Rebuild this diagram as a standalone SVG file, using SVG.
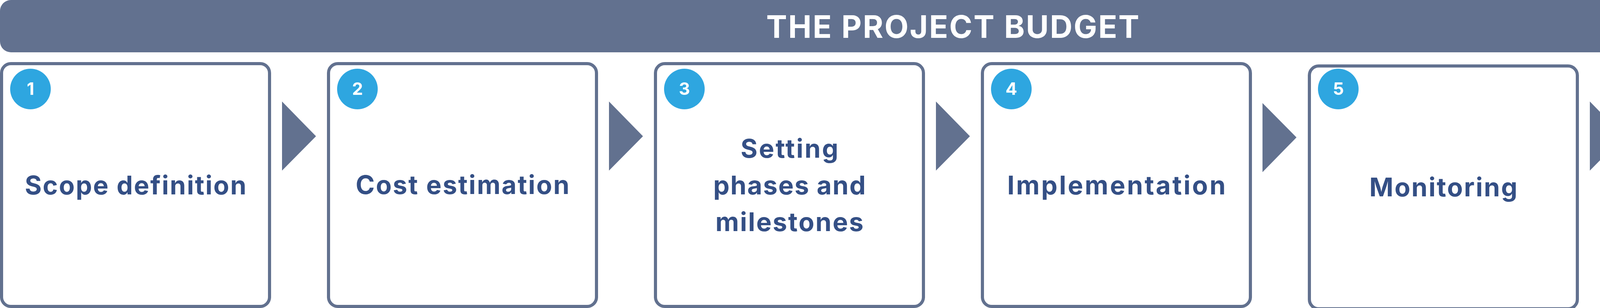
<svg xmlns="http://www.w3.org/2000/svg" width="4880" height="789" viewBox="0 0 4880 789">
<style>
.hdr{fill:#62718f}
.box{fill:#ffffff;stroke:#62718f;stroke-width:8}
.badge{fill:#2ea6e0}
.num{font-family:Inter,"Open Sans",sans-serif;font-weight:700;font-size:44px;fill:#ffffff;text-anchor:middle}
.lbl{font-family:Inter,"Open Sans",sans-serif;font-weight:700;font-size:66px;fill:#344f85;text-anchor:middle}
.title{font-family:Inter,"Open Sans",sans-serif;font-weight:700;font-size:80px;fill:#ffffff;text-anchor:middle}
.arrow{fill:#62718f}
</style>
<rect width="4880" height="789" fill="#ffffff"/>
<g id="header">
<rect class="hdr" x="0" y="0" width="4878" height="134" rx="28"/>
<text class="title" x="2439" y="97" textLength="955">THE PROJECT BUDGET</text>
</g>
<g id="step1">
<rect class="box" x="4" y="163" width="686" height="622" rx="24"/>
<circle class="badge" cx="78" cy="228" r="52"/>
<text class="num" x="78" y="243">1</text>
<text class="lbl" x="347" y="498" textLength="567">Scope definition</text>
</g>
<g id="step2">
<rect class="box" x="841" y="163" width="686" height="622" rx="24"/>
<circle class="badge" cx="915" cy="228" r="52"/>
<text class="num" x="915" y="243">2</text>
<text class="lbl" x="1184" y="497" textLength="547">Cost estimation</text>
</g>
<g id="step3">
<rect class="box" x="1678" y="163" width="686" height="622" rx="24"/>
<circle class="badge" cx="1752" cy="228" r="52"/>
<text class="num" x="1752" y="243">3</text>
<text class="lbl" x="2021" y="404" textLength="250">Setting</text>
<text class="lbl" x="2021" y="498" textLength="390">phases and</text>
<text class="lbl" x="2021" y="592" textLength="379">milestones</text>
</g>
<g id="step4">
<rect class="box" x="2515" y="163" width="686" height="622" rx="24"/>
<circle class="badge" cx="2589" cy="228" r="52"/>
<text class="num" x="2589" y="243">4</text>
<text class="lbl" x="2858" y="498" textLength="559">Implementation</text>
</g>
<g id="step5">
<rect class="box" x="3352" y="169" width="686" height="622" rx="24"/>
<circle class="badge" cx="3426" cy="228" r="52"/>
<text class="num" x="3426" y="243">5</text>
<text class="lbl" x="3695" y="503" textLength="379">Monitoring</text>
</g>
<g id="step6">
<rect class="box" x="4188" y="163" width="686" height="622" rx="24"/>
<circle class="badge" cx="4262" cy="227" r="52"/>
<text class="num" x="4262" y="242">6</text>
<text class="lbl" x="4531" y="498" textLength="254">Closing</text>
</g>
<g id="connectors">
<polygon class="arrow" points="722,260 809,349 722,437"/>
<polygon class="arrow" points="1559,260 1646,349 1559,437"/>
<polygon class="arrow" points="2396,260 2483,349 2396,437"/>
<polygon class="arrow" points="3232,264 3319,352 3232,441"/>
<polygon class="arrow" points="4070,260 4157,349 4070,437"/>
</g>
</svg>
